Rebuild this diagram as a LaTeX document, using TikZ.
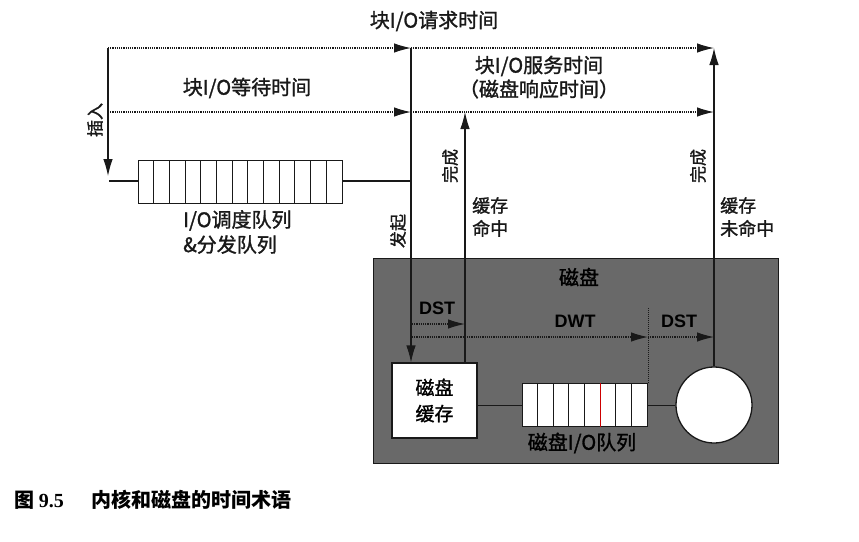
\documentclass[tikz,border=0pt]{standalone}
\usepackage{fontspec}
\setmainfont{Liberation Sans}
\newfontfamily\cjk[FakeBold=1.4]{Noto Sans CJK SC}
\newfontfamily\cjkb{Noto Sans CJK SC}
\newfontfamily\capserif{Liberation Serif}
\usetikzlibrary{arrows.meta,calc}
\definecolor{diskgray}{RGB}{105,105,105}
\definecolor{lnc}{RGB}{25,25,25}
\begin{document}
\begin{tikzpicture}[x=1pt,y=-1pt,
  lbl/.style={font=\cjk\fontsize{20}{25}\selectfont, inner sep=0pt, text=lnc},
  sml/.style={font=\cjk\fontsize{18}{23}\selectfont, inner sep=0pt, text=lnc},
  rot/.style={font=\cjk\fontsize{17}{20}\selectfont, inner sep=0pt, text=lnc, rotate=90},
  latin/.style={font=\bfseries\fontsize{18}{20}\selectfont, inner sep=0pt, text=black},
  ln/.style={line width=1.1pt, draw=lnc},
  dl/.style={line width=1.2pt, draw=lnc, densely dotted},
  tip/.style={-{Latex[length=17pt,width=9.5pt]}},
  box/.style={draw=lnc, line width=1.1pt, fill=white, inner sep=0pt},
]
\useasboundingbox (0,0) rectangle (859,541);

% disk background
\node (disk) [draw=lnc, line width=1.3pt, fill=diskgray, minimum width=405pt, minimum height=205pt, anchor=north west, inner sep=0pt] at (373,258) {};

% coordinates
\coordinate (tl) at (108,48);
\coordinate (tm) at (411,48);
\coordinate (tr) at (714,48);
\coordinate (ml) at (108,112);
\coordinate (mm) at (411,112);
\coordinate (mr) at (714,112);
\coordinate (ldown) at (108,176);
\coordinate (lcorner) at (109,181);
\coordinate (qjoin) at (411,181);

% I/O scheduler queue
\node (sq) [box, minimum width=204pt, minimum height=43pt, anchor=north west] at (138,160) {};
\foreach \i in {1,...,12} {
  \draw[ln] ($(sq.north west)+(\i*204/13,0)$) -- ($(sq.south west)+(\i*204/13,0)$);
}

% disk cache
\node (cache) [box, minimum width=85pt, minimum height=75pt, font=\cjk\fontsize{19}{26}\selectfont, align=center] at (434.5,400.5) {磁盘\\缓存};
% disk queue
\node (dq) [box, minimum width=125pt, minimum height=43pt, anchor=north west] at (522,383) {};
\foreach \i in {1,2,3,4,6,7} {
  \draw[ln] ($(dq.north west)+(\i*125/8,0)$) -- ($(dq.south west)+(\i*125/8,0)$);
}
\draw[line width=1.1pt, draw=red!80!black] ($(dq.north west)+(5*125/8,0)$) -- ($(dq.south west)+(5*125/8,0)$);
% disk head
\node (head) [draw=lnc, line width=1.3pt, fill=white, circle, minimum size=76pt, inner sep=0pt] at (714,405) {};

% top dotted arrows
\draw[dl, tip] (tl) -- (tm);
\draw[dl, tip] (tm) -- (tr);
\draw[dl, tip] (ml) -- (mm);
\draw[dl, tip] (mm) -- (mr);

% insert
\draw[ln, tip] (tl) -- (ldown);
\draw[ln] (lcorner) -- (sq.west |- lcorner);
\draw[ln] (sq.east |- qjoin) -- (qjoin);

% issue
\draw[ln, tip] (tm) -- (tm |- cache.north);
% cache hit complete
\coordinate (hitb) at (465,363);
\draw[ln, tip] (hitb) -- (hitb |- ml);
% cache miss complete
\draw[ln, tip] (head.north) -- (tr);

% cache to queue to head
\draw[ln] (cache.east |- dq.west) -- (dq.west);
\draw[ln] (dq.east) -- (head.west |- dq.east);

% DST / DWT arrows
\coordinate (d1s) at (412,324);
\coordinate (d1e) at (465,324);
\coordinate (d2s) at (412,337);
\coordinate (d2e) at (648,337);
\coordinate (d3e) at (714,337);
\coordinate (vtop) at (648,308);
\draw[dl, tip] (d1s) -- (d1e);
\draw[dl, tip] (d2s) -- (d2e);
\draw[dl, tip] (d2e) -- (d3e);
\draw[line width=1pt, draw=lnc, densely dotted] (vtop) -- (vtop |- dq.north);

% labels
\node (t1) [lbl] at (434,21) {块I/O请求时间};
\node (t2) [lbl] at (247,88) {块I/O等待时间};
\node (t3) [lbl] at (539,66) {块I/O服务时间};
\node (t4) [lbl] at (539,89) {（磁盘响应时间）};
\node (r1) [rot] at (95,120) {插入};
\node (r2) [rot] at (398,231) {发起};
\node (r3) [rot] at (450,166) {完成};
\node (r4) [rot] at (698,166) {完成};
\node (hit) [sml, align=left, anchor=west] at (472,217) {缓存\\命中};
\node (miss) [sml, align=left, anchor=west] at (720,217) {缓存\\未命中};
\node (sql) [lbl, align=left, anchor=west] at (183,232) {I/O调度队列\\\&分发队列};
\node (dl1) [lbl, text=black] at (579,277) {磁盘};
\node (dst1) [latin] at (437,308) {DST};
\node (dwt) [latin] at (575,321) {DWT};
\node (dst2) [latin] at (679,321) {DST};
\node (dql) [lbl, text=black] at (582,443) {磁盘I/O队列};
\node (cap) [font=\cjkb\bfseries\fontsize{20}{24}\selectfont, anchor=west, inner sep=0pt] at (14,500) {图 {\capserif\bfseries 9.5}\hspace{1.4em}内核和磁盘的时间术语};
\end{tikzpicture}
\end{document}
